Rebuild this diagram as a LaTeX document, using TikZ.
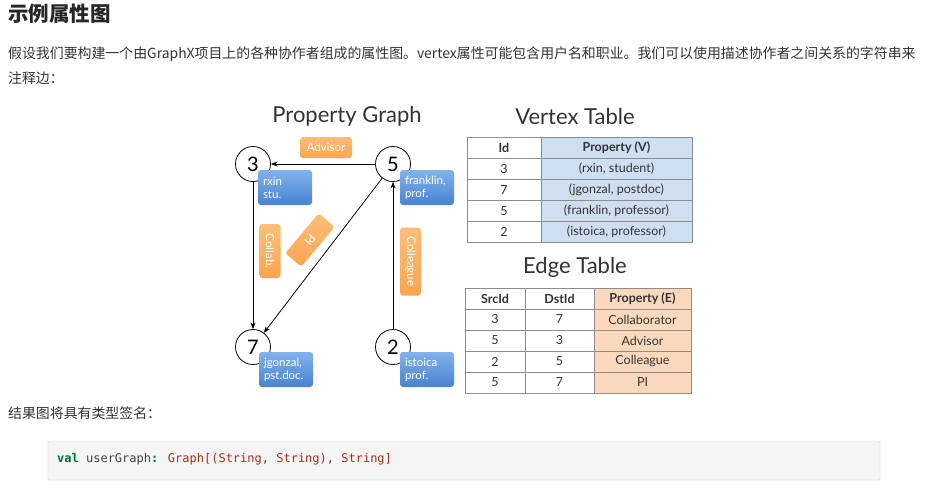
\documentclass[tikz,border=0pt]{standalone}
\usepackage{fontspec}
\setmainfont{Liberation Sans}
\newfontfamily\cjk{Noto Sans CJK SC}
\newfontfamily\gill{Lato}
\newfontfamily\codefont{DejaVu Sans Mono}
\usetikzlibrary{arrows.meta, positioning, shapes.geometric}
\definecolor{txtgray}{RGB}{51,51,51}
\definecolor{bluetop}{RGB}{130,178,235}
\definecolor{bluebot}{RGB}{72,130,210}
\definecolor{orgtop}{RGB}{254,190,120}
\definecolor{orgbot}{RGB}{250,165,80}
\definecolor{vcell}{RGB}{206,223,241}
\definecolor{ecell}{RGB}{252,217,188}
\definecolor{tline}{RGB}{140,140,140}
\definecolor{codebg}{RGB}{245,245,245}
\definecolor{codeline}{RGB}{210,210,210}
\definecolor{kwgreen}{RGB}{0,110,50}
\definecolor{typered}{RGB}{160,50,20}

\begin{document}
\begin{tikzpicture}[x=1pt, y=-1pt, >=Stealth,
    vert/.style={circle, draw, thick, minimum size=35pt, inner sep=0pt,
      font=\gill\fontsize{20}{22}\selectfont},
    prop/.style={rounded corners=3pt, top color=bluetop, bottom color=bluebot,
      minimum width=54pt, minimum height=35pt, text width=44pt, align=left,
      text=white, inner sep=0pt, font=\gill\fontsize{11.5}{13}\selectfont},
    rel/.style={rounded corners=3pt, top color=orgtop, bottom color=orgbot,
      minimum height=21pt, inner sep=0pt, text=white,
      font=\gill\fontsize{11.5}{13}\selectfont},
    cell/.style={draw=tline, line width=0.9pt, minimum height=21pt, inner sep=0pt,
      text=txtgray, font=\gill\fontsize{12.5}{14}\selectfont},
    title/.style={text=txtgray, font=\gill\fontsize{22}{24}\selectfont},
    para/.style={anchor=west, inner sep=0pt, text=txtgray,
      font=\cjk\fontsize{13.9}{16}\selectfont}]
  \useasboundingbox (0,0) rectangle (934,490);

  % page text
  \node[anchor=west, inner sep=0pt, text=black!85,
    font=\cjk\bfseries\fontsize{20.5}{24}\selectfont] (heading) at (8,14) {示例属性图};
  \node[para] (line1) at (8,54) {假设我们要构建一个由GraphX项目上的各种协作者组成的属性图。vertex属性可能包含用户名和职业。我们可以使用描述协作者之间关系的字符串来};
  \node[para] (line2) at (8,78) {注释边：};
  \node[para] (caption) at (8,413) {结果图将具有类型签名：};

  % titles
  \node[title] (gtitle) at (347,116) {Property Graph};
  \node[title] (vtitle) at (575,116) {Vertex Table};
  \node[title] (etitle) at (575,267) {Edge Table};

  % property graph
  \node[vert] (v3) at (253,164) {3};
  \node[vert] (v5) at (393,164) {5};
  \node[vert] (v7) at (253,347) {7};
  \node[vert] (v2) at (393,347) {2};
  \node[prop] (p3) at (285,187.5) {rxin\\stu.};
  \node[prop] (p5) at (427,187.5) {franklin,\\prof.};
  \node[prop] (p7) at (286,369.5) {jgonzal,\\pst.doc.};
  \node[prop] (p2) at (427,369.5) {istoica\\prof.};
  \draw[->, line width=0.8pt] (v5) -- (v3);
  \draw[->, line width=0.8pt] (v3) -- (v7);
  \draw[->, line width=0.8pt] (v5) -- (v7);
  \draw[->, line width=0.8pt] (v2) -- (v5);
  \node[rel, minimum width=52pt] (advisor) at (326,147.5) {Advisor};
  \node[rel, minimum width=54pt, rotate=-90] (collab) at (270,251) {Collab.};
  \node[rel, minimum width=52pt, rotate=230] (pi) at (310,240) {PI};
  \node[rel, minimum width=68pt, rotate=-90] (colleague) at (410.5,261.5) {Colleague};

  % vertex table
  \node[cell, minimum width=74pt] (vid0) at (504,148) {\bfseries Id};
  \node[cell, minimum width=151pt, fill=vcell] (vp0) at (616.5,148) {\bfseries Property (V)};
  \foreach \i/\id/\val in {1/3/{(rxin, student)}, 2/7/{(jgonzal, postdoc)},
      3/5/{(franklin, professor)}, 4/2/{(istoica, professor)}} {
    \node[cell, minimum width=74pt] (vid\i) at (504,148+21*\i) {\id};
    \node[cell, minimum width=151pt, fill=vcell] (vp\i) at (616.5,148+21*\i) {\val};
  }

  % edge table
  \node[cell, minimum width=60pt] (src0) at (495,298.5) {\bfseries SrcId};
  \node[cell, minimum width=69pt] (dst0) at (559.5,298.5) {\bfseries DstId};
  \node[cell, minimum width=97pt, fill=ecell] (ep0) at (642.5,298.5) {\bfseries Property (E)};
  \foreach \i/\s/\d/\val in {1/3/7/Collaborator, 2/5/3/Advisor, 3/2/5/Colleague, 4/5/7/PI} {
    \node[cell, minimum width=60pt] (src\i) at (495,298.5+21*\i) {\s};
    \node[cell, minimum width=69pt] (dst\i) at (559.5,298.5+21*\i) {\d};
    \node[cell, minimum width=97pt, fill=ecell] (ep\i) at (642.5,298.5+21*\i) {\val};
  }

  % code block
  \node[draw=codeline, fill=codebg, rounded corners=2pt, minimum width=832pt,
    minimum height=39pt] (codebox) at (464,460.5) {};
  \node[anchor=west, inner sep=0pt, font=\codefont\fontsize{12}{14}\selectfont]
    (code) at (57,459) {\textcolor{kwgreen}{\bfseries val} \textcolor{black!75}{userGraph}\textcolor{kwgreen}{\bfseries :} \textcolor{typered}{Graph[(String}\textcolor{black!75}{,} \textcolor{typered}{String)}\textcolor{black!75}{,} \textcolor{typered}{String]}};
\end{tikzpicture}
\end{document}
